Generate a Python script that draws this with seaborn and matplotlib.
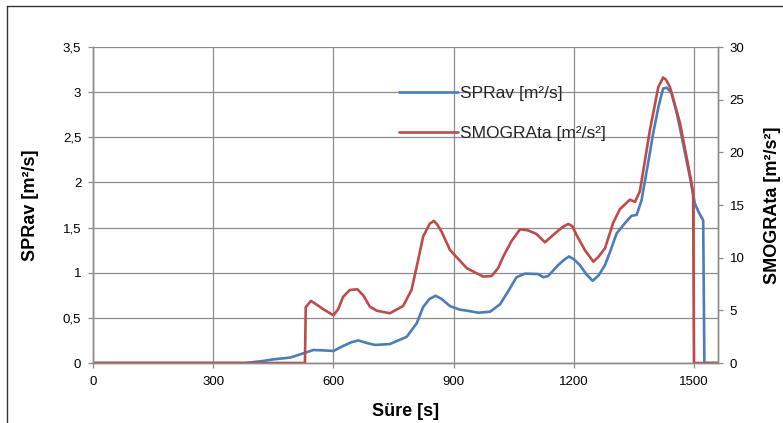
import matplotlib
matplotlib.use("Agg")
import matplotlib.pyplot as plt
from matplotlib.lines import Line2D
import numpy as np
import pandas as pd
import seaborn as sns

# Time axis labels and limits
x_ticks = [0, 300, 600, 900, 1200, 1500]
left_ticks = [0, 0.5, 1, 1.5, 2, 2.5, 3, 3.5]
right_ticks = [0, 5, 10, 15, 20, 25, 30]

# SPRav [m²/s] (left axis)
spr_time = [0, 380, 420, 450, 492, 525, 550, 575, 600, 625, 645, 662, 685, 704,
            741, 783, 808, 824, 840, 855, 870, 891, 916, 933, 962, 991, 1016,
            1037, 1057, 1078, 1111, 1124, 1136, 1160, 1175, 1188, 1200, 1215,
            1232, 1247, 1262, 1278, 1293, 1307, 1328, 1344, 1357, 1369, 1385,
            1398, 1412, 1423, 1432, 1444, 1458, 1473, 1488, 1502, 1513, 1523,
            1526, 1560]
spr_value = [0, 0, 0.02, 0.04, 0.06, 0.107, 0.144, 0.14, 0.133, 0.19, 0.23, 0.25,
             0.22, 0.2, 0.21, 0.29, 0.44, 0.62, 0.71, 0.745, 0.71, 0.63, 0.59,
             0.58, 0.557, 0.568, 0.65, 0.8, 0.95, 0.99, 0.985, 0.95, 0.963, 1.08,
             1.14, 1.18, 1.15, 1.085, 0.98, 0.91, 0.97, 1.085, 1.26, 1.436, 1.55,
             1.63, 1.64, 1.80, 2.2, 2.54, 2.85, 3.04, 3.05, 2.99, 2.75, 2.43, 2.1,
             1.77, 1.66, 1.58, 0, 0]

# SMOGRAta [m²/s²] (right axis)
smo_time = [0, 529, 531, 544, 560, 575, 600, 612, 624, 641, 660, 675, 691, 708,
            741, 774, 795, 808, 824, 840, 851, 860, 870, 891, 916, 933, 974, 995,
            1011, 1024, 1045, 1066, 1085, 1107, 1128, 1153, 1172, 1186, 1196,
            1207, 1228, 1249, 1262, 1278, 1298, 1315, 1340, 1353, 1365, 1378,
            1390, 1411, 1423, 1430, 1440, 1465, 1494, 1498, 1500, 1560]
smo_value = [0, 0, 5.3, 5.9, 5.5, 5.1, 4.53, 5.1, 6.27, 6.93, 7.0, 6.4, 5.35, 4.97,
             4.72, 5.41, 6.93, 9.15, 12.0, 13.2, 13.5, 13.1, 12.47, 10.73, 9.7,
             9.0, 8.2, 8.26, 9.0, 10.1, 11.6, 12.7, 12.6, 12.25, 11.46, 12.3, 12.9,
             13.2, 13.0, 12.15, 10.7, 9.62, 10.1, 10.9, 13.27, 14.6, 15.5, 15.3,
             16.3, 19.3, 22.1, 26.2, 27.1, 26.9, 26.2, 22.8, 17.1, 16.1, 0, 0]

spr_df = pd.DataFrame({"t": spr_time, "v": spr_value})
smo_df = pd.DataFrame({"t": smo_time, "v": smo_value})

sns.set_theme(style="white")
plt.rcParams["font.family"] = ["Liberation Sans", "DejaVu Sans"]

BLUE = "#4a7ebb"
RED = "#be4b48"
GRID = "#8c8c8c"

fig = plt.figure(figsize=(7.83, 4.23), dpi=100)
ax = fig.add_axes([93 / 783, 60 / 423, 625 / 783, 316 / 423])
ax2 = ax.twinx()

sns.lineplot(data=spr_df, x="t", y="v", ax=ax, color=BLUE, linewidth=1.9,
             estimator=None, sort=False, label="SPRav [m²/s]", legend=False)
sns.lineplot(data=smo_df, x="t", y="v", ax=ax2, color=RED, linewidth=1.9,
             estimator=None, sort=False, label="SMOGRAta [m²/s²]", legend=False)
for a in (ax, ax2):
    for ln in a.get_lines():
        ln.set_solid_joinstyle("round")

ax.set_xlim(0, 1560)
ax.set_ylim(0, 3.5)
ax2.set_ylim(0, 30)
ax.set_xticks(x_ticks)
ax.set_yticks(left_ticks)
ax.set_yticklabels([f"{v:g}".replace(".", ",") for v in left_ticks])
ax2.set_yticks(right_ticks)

ax.grid(True, color=GRID, linewidth=0.9)
ax.set_axisbelow(True)

for a in (ax, ax2):
    a.spines["top"].set_visible(False)
    for side in ("left", "right", "bottom"):
        a.spines[side].set_color(GRID)
        a.spines[side].set_linewidth(1.0)
    a.tick_params(axis="both", which="major", direction="out", length=3.5,
                  width=0.9, color=GRID, labelsize=9.5, labelcolor="black", pad=5)
ax.tick_params(axis="x", bottom=True, pad=6)
ax.tick_params(axis="y", left=True)
ax2.tick_params(axis="y", right=True)

label_kw = dict(fontsize=13, fontweight="bold", color="black")
ax.set_xlabel("Süre [s]", labelpad=11, **label_kw)
ax.set_ylabel("SPRav [m²/s]", labelpad=17, **label_kw)
ax2.set_ylabel("SMOGRAta [m²/s²]", labelpad=14, **label_kw)

handles = [Line2D([], [], color=BLUE, linewidth=1.9),
           Line2D([], [], color=RED, linewidth=1.9)]
ax2.legend(handles, ["SPRav [m²/s]", "SMOGRAta [m²/s²]"], loc="upper left",
           bbox_to_anchor=(0.49, 0.878), frameon=False, fontsize=12.5,
           handlelength=3.4, handletextpad=0.1, labelspacing=1.45,
           borderpad=0, borderaxespad=0)

# Outer chart border
fig.add_artist(Line2D([7 / 783, 1.0], [1 - 6 / 423, 1 - 6 / 423], color="#333333",
                      linewidth=1.0, transform=fig.transFigure))
fig.add_artist(Line2D([7 / 783, 7 / 783], [0, 1 - 6 / 423], color="#333333",
                      linewidth=1.0, transform=fig.transFigure))

fig.savefig("out.png", dpi=100, facecolor="white")
